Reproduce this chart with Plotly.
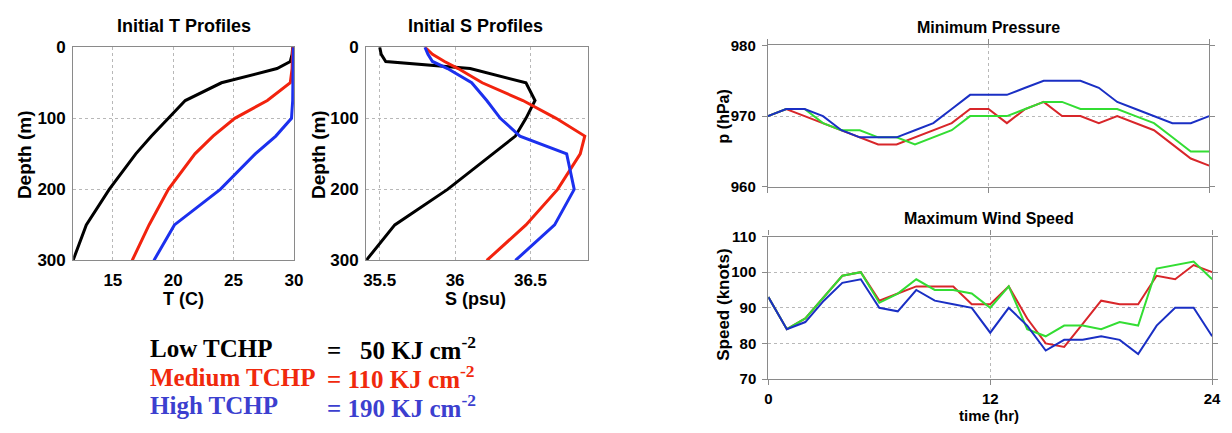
import plotly.graph_objects as go

W, H = 1232, 433

# ---------------- data ----------------
depth = [0, 10, 20, 30, 50, 75, 100, 125, 150, 200, 250, 300]
T_low = [29.9, 29.85, 29.7, 28.6, 24.0, 21.0, 19.6, 18.2, 16.9, 14.7, 12.8, 11.7]
T_med = [29.9, 29.9, 29.9, 29.85, 29.7, 27.8, 25.1, 23.3, 21.8, 19.6, 18.0, 16.6]
T_high = [29.95, 29.95, 29.95, 29.95, 29.9, 29.9, 29.8, 28.5, 26.8, 23.9, 20.1, 18.4]
S_low = [35.50, 35.51, 35.54, 36.10, 36.47, 36.53, 36.47, 36.40, 36.25, 35.95, 35.60, 35.41]
S_med = [35.80, 35.85, 35.93, 36.02, 36.18, 36.45, 36.67, 36.86, 36.83, 36.68, 36.47, 36.21]
S_high = [35.80, 35.82, 35.85, 35.95, 36.11, 36.21, 36.30, 36.43, 36.74, 36.79, 36.66, 36.40]

time_hr = list(range(25))
p_blue = [970, 971, 971, 970, 968, 967, 967, 967, 968, 969, 971, 973, 973, 973, 974, 975, 975, 975, 974, 972, 971, 970, 969, 969, 970]
p_red = [970, 971, 970, 969, 968, 967, 966, 966, 967, 968, 969, 971, 971, 969, 971, 972, 970, 970, 969, 970, 969, 968, 966, 964, 963]
p_green = [970, 971, 971, 969, 968, 968, 967, 967, 966, 967, 968, 970, 970, 970, 971, 972, 972, 971, 971, 971, 970, 969, 967, 965, 965]

w_blue = [93, 84, 86, 92, 97, 98, 90, 89, 95, 92, 91, 90, 83, 90, 85, 78, 81, 81, 82, 81, 77, 85, 90, 90, 82]
w_red = [93, 84, 87, 93, 99, 100, 92, 94, 96, 96, 96, 91, 91, 96, 87, 80, 79, 85.5, 92, 91, 91, 99, 98, 102, 100]
w_green = [93, 84, 87, 93, 99, 100, 91.4, 94, 98, 95, 95, 94, 90, 96, 84, 82, 85, 85, 84, 86, 85, 101, 102, 103, 98]

T_ticks = [15, 20, 25, 30]
S_ticks = [35.5, 36, 36.5]
S_ticklabels = ["35.5", "36", "36.5"]
depth_ticks = [0, 100, 200, 300]
time_ticks = [0, 12, 24]
p_ticks = [960, 970, 980]
w_ticks = [70, 80, 90, 100, 110]

legend_names = ["Low TCHP", "Medium TCHP", "High TCHP"]
legend_values = ["=   50 KJ cm<sup>-2</sup>", "= 110 KJ cm<sup>-2</sup>", "= 190 KJ cm<sup>-2</sup>"]

# ---------------- helpers (pixel -> paper fraction) ----------------
def px(x):
    return x / W

def py(y):
    return 1 - y / H

SANS = "Liberation Sans, Arial, sans-serif"
BLK, RED_L, BLU_L = "#000000", "#f2230e", "#1c30ee"
RED_R, GRN_R, BLU_R = "#d8262a", "#33dd33", "#1a2fc4"
FRAME = "#8a8a8a"
GRID = "#b8b8b8"

fig = go.Figure()

def add(x, y, color, width, xa, ya):
    fig.add_trace(go.Scatter(x=x, y=y, mode="lines", line=dict(color=color, width=width),
                             xaxis=xa, yaxis=ya, showlegend=False, hoverinfo="skip"))

add(T_low, depth, BLK, 3, "x", "y")
add(T_med, depth, RED_L, 3, "x", "y")
add(T_high, depth, BLU_L, 3, "x", "y")
add(S_low, depth, BLK, 3, "x2", "y2")
add(S_med, depth, RED_L, 3, "x2", "y2")
add(S_high, depth, BLU_L, 3, "x2", "y2")
add(time_hr, p_red, RED_R, 2, "x3", "y3")
add(time_hr, p_green, GRN_R, 2, "x3", "y3")
add(time_hr, p_blue, BLU_R, 2, "x3", "y3")
add(time_hr, w_red, RED_R, 2, "x4", "y4")
add(time_hr, w_green, GRN_R, 2, "x4", "y4")
add(time_hr, w_blue, BLU_R, 2, "x4", "y4")

left_font = dict(family=SANS, size=17, color="black", weight="bold")
right_font = dict(family=SANS, size=15, color="black", weight="bold")

def axis(domain, rng, tickvals, anchor, font, ticktext=None, showlabels=True, ticks="", standoff=4):
    d = dict(domain=domain, range=rng, tickvals=tickvals, anchor=anchor,
             showline=True, linecolor=FRAME, linewidth=1.2, mirror="ticks" if ticks else True,
             ticks=ticks, ticklen=5, tickcolor=FRAME,
             showgrid=True, gridcolor=GRID, griddash="dot", gridwidth=1,
             zeroline=False, tickfont=font, showticklabels=showlabels,
             ticklabelstandoff=standoff, fixedrange=True)
    if ticktext is not None:
        d["ticktext"] = ticktext
    return d

ydom_left = [py(263), py(40)]
fig.update_layout(
    xaxis=axis([px(70), px(293)], [11.72, 30.0], T_ticks, "y", left_font, standoff=4),
    yaxis=axis(ydom_left, [300, 0], depth_ticks, "x", left_font, standoff=3),
    xaxis2=axis([px(366), px(590)], [35.41, 36.88], S_ticks, "y2", left_font, ticktext=S_ticklabels, standoff=4),
    yaxis2=axis(ydom_left, [300, 0], depth_ticks, "x2", left_font, standoff=3),
    xaxis3=axis([px(772), px(1218)], [0, 24], time_ticks, "y3", right_font, showlabels=False, ticks="outside"),
    yaxis3=axis([py(186), py(38)], [960, 980], p_ticks, "x3", right_font, ticks="outside", standoff=3),
    xaxis4=axis([px(772.5), px(1221)], [0, 24], time_ticks, "y4", right_font, ticks="outside", standoff=1),
    yaxis4=axis([py(387), py(238)], [70, 110], w_ticks, "x4", right_font, ticks="outside", standoff=3),
)

ann = []
def text(x, y, s, size, color="black", angle=0, family=SANS, xanchor="center", bold=True):
    ann.append(dict(x=px(x), y=py(y), xref="paper", yref="paper", text=s, showarrow=False,
                    xanchor=xanchor, yanchor="middle", textangle=angle,
                    font=dict(family=family, size=size, color=color, weight="bold" if bold else "normal")))

text(182, 18, "Initial T Profiles", 18)
text(477, 18, "Initial S Profiles", 18)
text(181, 303, "T (C)", 18)
text(477, 303, "S (psu)", 18)
text(21, 152, "Depth (m)", 19, angle=-90)
text(318, 152, "Depth (m)", 19, angle=-90)
text(995, 19, "Minimum Pressure", 16)
text(996, 219, "Maximum Wind Speed", 16)
text(996, 425, "time (hr)", 15)
text(727, 112, "p (hPa)", 16, angle=-90)
text(727, 309, "Speed (knots)", 17, angle=-90)

SERIF = "Liberation Serif, Times New Roman, serif"
leg_colors = [BLK, "#f0290c", "#3c3fcf"]
leg_y = [355, 385, 415]
for name, val, c, yy in zip(legend_names, legend_values, leg_colors, leg_y):
    text(146, yy, name, 25, color=c, family=SERIF, xanchor="left")
    text(324, yy, val, 25, color=c, family=SERIF, xanchor="left")

fig.update_layout(annotations=ann, width=W, height=H, margin=dict(l=0, r=0, t=0, b=0),
                  paper_bgcolor="white", plot_bgcolor="white", showlegend=False)

fig.write_html("out.html")
